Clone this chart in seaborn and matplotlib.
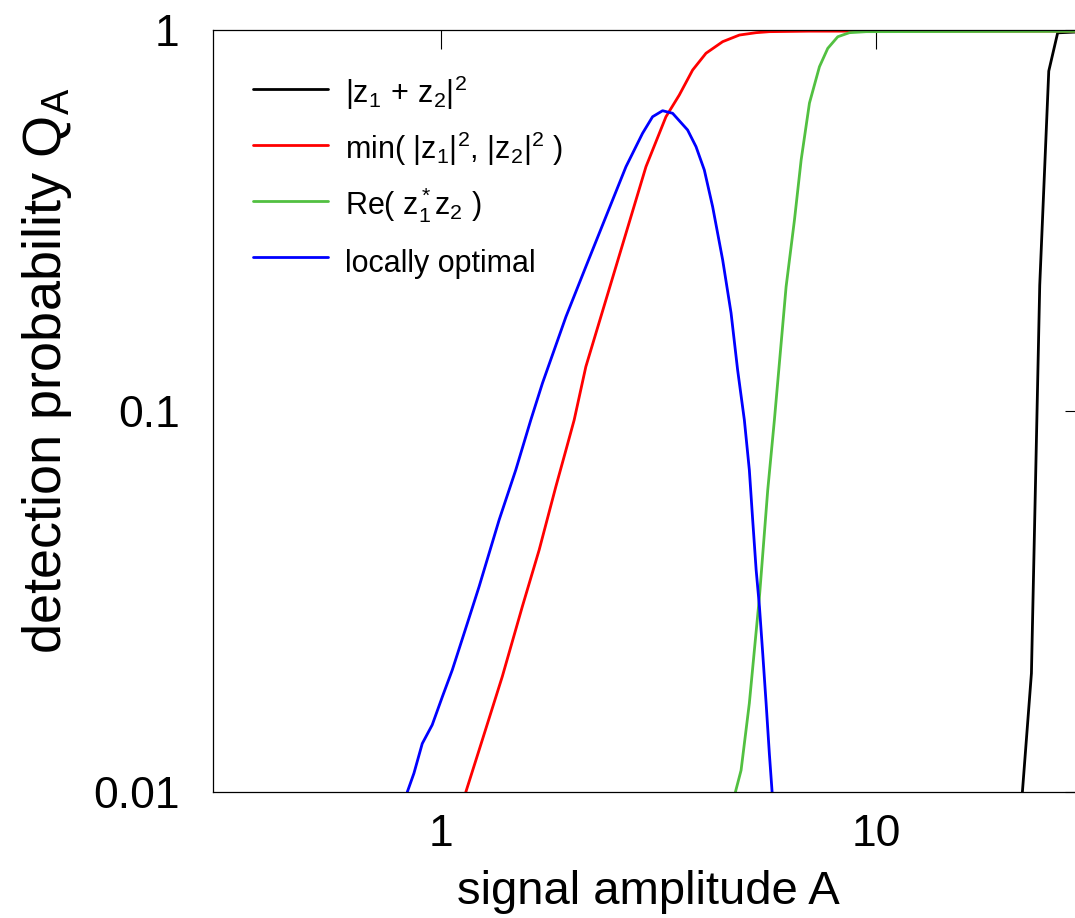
import numpy as np
import pandas as pd
import seaborn as sns
import matplotlib
matplotlib.use('Agg')
import matplotlib.pyplot as plt

# curves (signal amplitude A, detection probability Q_A)
sum_x = [21.66, 22.72, 23.74, 24.9, 26.1, 30.0]
sum_y = [0.01, 0.0205, 0.214, 0.78, 0.983, 0.99]

min_x = [1.142, 1.246, 1.385, 1.540, 1.683, 1.838, 1.939, 2.025, 2.154, 2.395, 2.663,
         2.960, 3.290, 3.530, 3.788, 4.066, 4.441, 4.851, 5.300, 5.684, 7.0, 30.0]
min_y = [0.01, 0.0137, 0.0201, 0.0307, 0.0432, 0.0633, 0.079, 0.0947, 0.1307, 0.1956, 0.2927,
         0.4377, 0.592, 0.675, 0.785, 0.869, 0.932, 0.970, 0.984, 0.990, 0.993, 0.993]

re_x = [4.75, 4.894, 5.113, 5.393, 5.635, 5.837, 6.21, 6.49, 6.724, 7.026, 7.407,
        7.74, 8.16, 8.68, 9.485, 30.0]
re_y = [0.01, 0.0114, 0.0171, 0.0325, 0.062, 0.0947, 0.212, 0.317, 0.456, 0.643, 0.801,
        0.895, 0.960, 0.984, 0.990, 0.992]

lo_x = [0.838, 0.868, 0.907, 0.956, 1.009, 1.063, 1.151, 1.225, 1.362, 1.487, 1.610,
        1.712, 1.939, 2.154, 2.395, 2.663, 2.907, 3.065, 3.232, 3.408, 3.689, 3.857,
        4.030, 4.211, 4.441, 4.642, 4.806, 4.980, 5.113, 5.204, 5.300, 5.393, 5.488,
        5.587, 5.684, 5.767]
lo_y = [0.01, 0.0112, 0.0134, 0.0150, 0.0178, 0.0209, 0.0277, 0.0346, 0.0518, 0.0700, 0.0947,
        0.1182, 0.1768, 0.2392, 0.3236, 0.4377, 0.5356, 0.592, 0.614, 0.6045, 0.5465, 0.494,
        0.429, 0.3438, 0.2490, 0.1808, 0.1281, 0.0947, 0.0700, 0.0518, 0.0383, 0.0307, 0.0231,
        0.0171, 0.0126, 0.01]

labels = [r'$\mathregular{|z_1\,+\,z_2|^2}$',
          r'min( $\mathregular{|z_1|^2}$, $\mathregular{|z_2|^2}$ )',
          r'Re( $\mathregular{z_1^*z_2}$ )',
          'locally optimal']
colors = ['#000000', '#ff0000', '#52c041', '#0000ff']

df = pd.concat([
    pd.DataFrame({'A': sum_x, 'Q': sum_y, 'stat': labels[0]}),
    pd.DataFrame({'A': min_x, 'Q': min_y, 'stat': labels[1]}),
    pd.DataFrame({'A': re_x, 'Q': re_y, 'stat': labels[2]}),
    pd.DataFrame({'A': lo_x, 'Q': lo_y, 'stat': labels[3]}),
])

sns.set_style('white')
plt.rcParams['font.family'] = ['Liberation Sans', 'DejaVu Sans']
plt.rcParams['mathtext.fontset'] = 'custom'
plt.rcParams['mathtext.rm'] = 'Liberation Sans'
plt.rcParams['mathtext.it'] = 'Liberation Sans:italic'
plt.rcParams['text.color'] = 'black'
plt.rcParams['axes.labelcolor'] = 'black'
plt.rcParams['xtick.color'] = 'black'
plt.rcParams['ytick.color'] = 'black'

fig = plt.figure(figsize=(10.75, 9.18), dpi=100)
ax = fig.add_axes([213/1075, 126/918, 871/1075, 762/918])

sns.lineplot(data=df, x='A', y='Q', hue='stat', hue_order=labels, palette=colors,
             estimator=None, sort=False, linewidth=2.0, ax=ax)

ax.set_xscale('log')
ax.set_yscale('log')
ax.set_xlim(0.3, 30)
ax.set_ylim(0.01, 1)
ax.set_xticks([1, 10])
ax.set_xticklabels(['1', '10'])
ax.set_yticks([0.01, 0.1, 1])
ax.set_yticklabels(['0.01', '0.1', '1'])
ax.minorticks_off()
ax.tick_params(which='major', direction='in', length=14, width=0.8,
               top=True, right=True, labelsize=32)
ax.tick_params(axis='x', pad=16)
ax.tick_params(axis='y', pad=24)
for s in ax.spines.values():
    s.set_color('black')
    s.set_linewidth(0.9)

ax.set_xlabel('signal amplitude A', fontsize=34)
ax.set_ylabel(r'detection probability $\mathregular{Q_A}$', fontsize=39)
ax.xaxis.set_label_coords(0.5, -0.103)
ax.yaxis.set_label_coords(-0.16, 0.552)

handles, _ = ax.get_legend_handles_labels()
leg = ax.legend(handles, labels, loc='upper left', bbox_to_anchor=(0.046, 0.942),
                frameon=False, fontsize=22, borderpad=0, borderaxespad=0,
                handlelength=2.45, handletextpad=0.55, handleheight=1.5,
                labelspacing=0.57)
for t in leg.get_texts():
    t.set_color('black')

fig.savefig('out.png', dpi=100)
